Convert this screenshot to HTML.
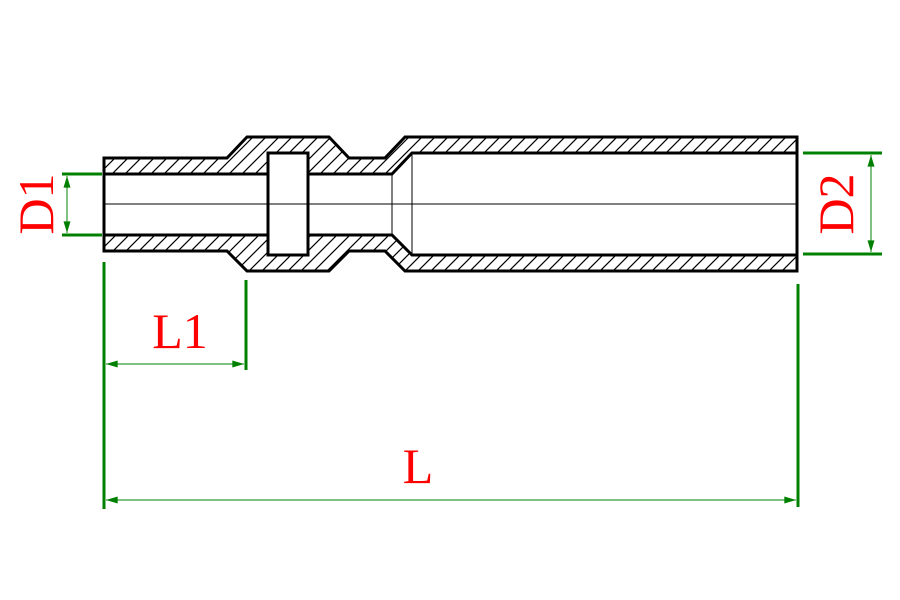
<!DOCTYPE html>
<html><head><style>body{margin:0;background:#fff}svg{display:block}</style></head><body>
<svg width="900" height="600" viewBox="0 0 900 600" xmlns="http://www.w3.org/2000/svg">
<defs>
<pattern id="h" patternUnits="userSpaceOnUse" width="13" height="13">
<path d="M-2,15 L15,-2 M-2,2 L2,-2 M11,15 L15,11" stroke="#000" stroke-width="1.2"/>
</pattern>
<marker id="a" viewBox="0 0 10 6" refX="10" refY="3" markerWidth="16" markerHeight="7" markerUnits="userSpaceOnUse" orient="auto-start-reverse"><path d="M0,0 L10,3 L0,6z" fill="#008000"/></marker>
</defs>
<path fill="url(#h)" fill-rule="evenodd" stroke="#000" stroke-width="3"
d="M104,158 L227,158 L247,137 L329,137 L349,158 L385,158 L405,137 L797,137 L797,271 L405,271 L385,251 L349,251 L329,271 L247,271 L227,251 L104,251 Z
M104,174 L268,174 L268,153 L308,153 L308,174 L392,174 L412,153 L797,153 L797,255 L412,255 L392,235 L308,235 L308,255 L268,255 L268,235 L104,235 Z"/>
<rect x="268" y="153" width="40" height="102" fill="#fff" stroke="#000" stroke-width="3"/>
<line x1="104" y1="204" x2="797" y2="204" stroke="#000" stroke-width="1"/>
<line x1="392" y1="174" x2="392" y2="235" stroke="#000" stroke-width="1"/>
<line x1="412" y1="153" x2="412" y2="255" stroke="#000" stroke-width="1"/>
<g stroke="#008000" fill="none">
<line x1="62" y1="174" x2="102" y2="174" stroke-width="3"/>
<line x1="62" y1="235" x2="102" y2="235" stroke-width="3"/>
<line x1="67" y1="176" x2="67" y2="233" stroke-width="1" marker-start="url(#a)" marker-end="url(#a)"/>
<line x1="803" y1="153" x2="882" y2="153" stroke-width="3"/>
<line x1="803" y1="254" x2="882" y2="254" stroke-width="3"/>
<line x1="871" y1="155" x2="871" y2="252" stroke-width="1" marker-start="url(#a)" marker-end="url(#a)"/>
<line x1="104" y1="262" x2="104" y2="509" stroke-width="3"/>
<line x1="246" y1="280" x2="246" y2="370" stroke-width="3"/>
<line x1="798" y1="284" x2="798" y2="507" stroke-width="3"/>
<line x1="106" y1="364" x2="244" y2="364" stroke-width="1" marker-start="url(#a)" marker-end="url(#a)"/>
<line x1="106" y1="500" x2="796" y2="500" stroke-width="1" marker-start="url(#a)" marker-end="url(#a)"/>
</g>
<g fill="#f00" font-family="Liberation Serif, serif" font-size="50">
<text x="180" y="348" text-anchor="middle">L1</text>
<text x="418" y="483" text-anchor="middle">L</text>
<text transform="translate(53,204) rotate(-90)" text-anchor="middle">D1</text>
<text transform="translate(853,204) rotate(-90)" text-anchor="middle">D2</text>
</g>
</svg>
</body></html>
